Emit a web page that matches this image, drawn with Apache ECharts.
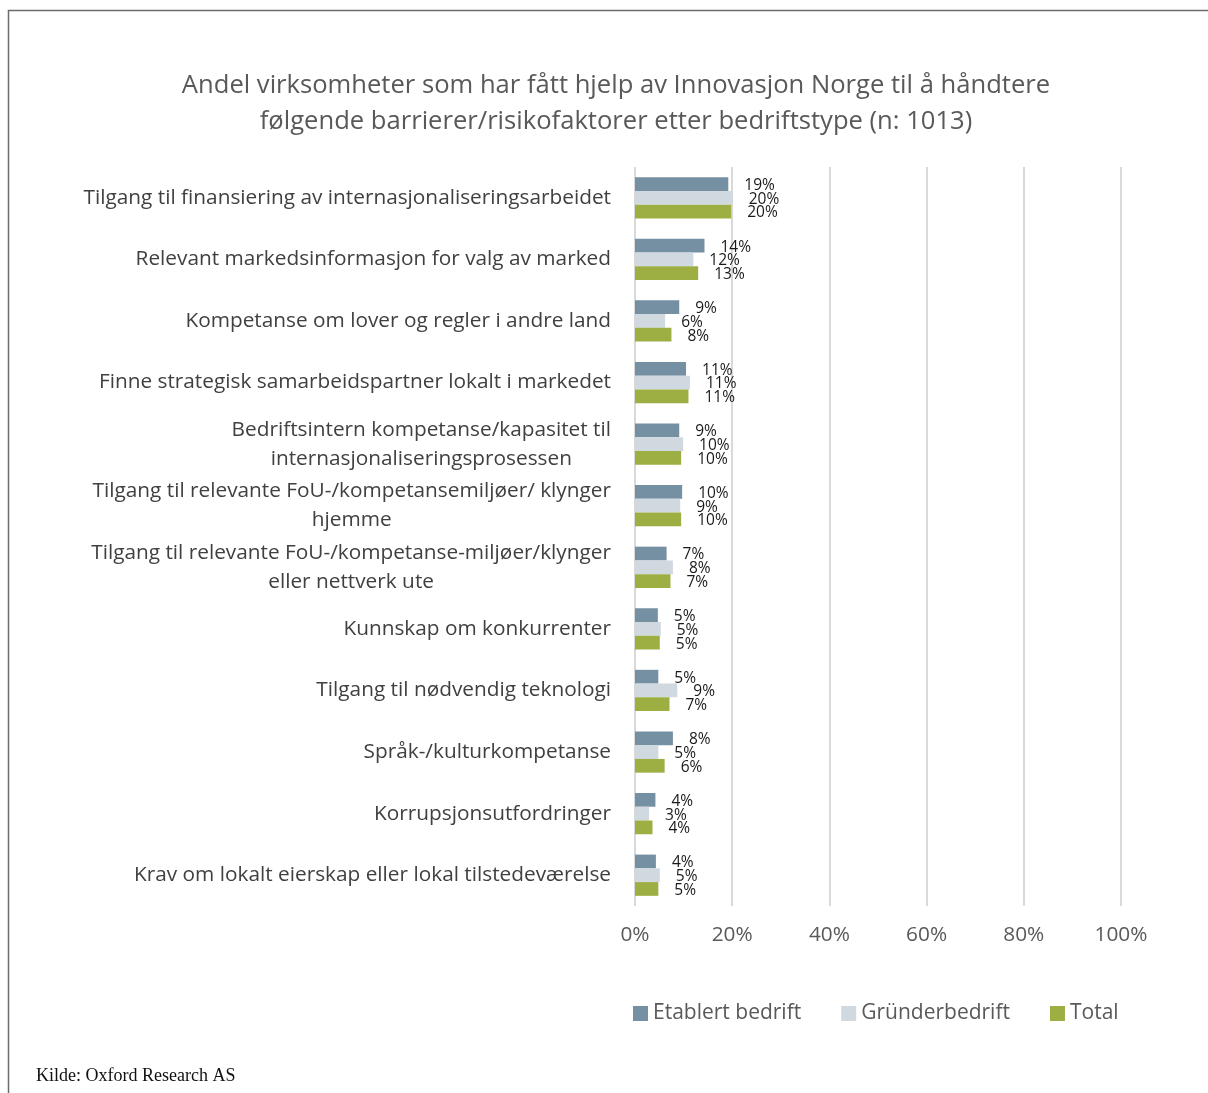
<!DOCTYPE html>
<html>
<head>
<meta charset="utf-8">
<script src="https://cdn.jsdelivr.net/npm/echarts@6/dist/echarts.min.js"></script>
<style>
html,body{margin:0;padding:0;background:#fff;}
#c{width:1208px;height:1093px;}
</style>
</head>
<body>
<div id="c"></div>
<script>
const categories = [
  "Tilgang til finansiering av internasjonaliseringsarbeidet",
  "Relevant markedsinformasjon for valg av marked",
  "Kompetanse om lover og regler i andre land",
  "Finne strategisk samarbeidspartner lokalt i markedet",
  "Bedriftsintern kompetanse/kapasitet til\ninternasjonaliseringsprosessen",
  "Tilgang til relevante FoU-/kompetansemiljøer/ klynger\nhjemme",
  "Tilgang til relevante FoU-/kompetanse-miljøer/klynger\neller nettverk ute",
  "Kunnskap om konkurrenter",
  "Tilgang til nødvendig teknologi",
  "Språk-/kulturkompetanse",
  "Korrupsjonsutfordringer",
  "Krav om lokalt eierskap eller lokal tilstedeværelse"
];
const etablert = [19.2, 14.3, 9.1, 10.5, 9.1, 9.7, 6.5, 4.7, 4.8, 7.8, 4.2, 4.3];
const grunder  = [20.1, 12.0, 6.2, 11.3, 9.9, 9.3, 7.8, 5.3, 8.7, 4.8, 2.9, 5.1];
const total    = [19.8, 13.0, 7.5, 11.0, 9.5, 9.5, 7.3, 5.1, 7.1, 6.1, 3.6, 4.8];
const etablertLabels = ["19%","14%","9%","11%","9%","10%","7%","5%","5%","8%","4%","4%"];
const grunderLabels  = ["20%","12%","6%","11%","10%","9%","8%","5%","9%","5%","3%","5%"];
const totalLabels    = ["20%","13%","8%","11%","10%","10%","7%","5%","7%","6%","4%","5%"];
const seriesNames = ["Etablert bedrift", "Gründerbedrift", "Total"];
const xTicks = [0, 20, 40, 60, 80, 100];

const FONT = "'Open Sans', Lato, sans-serif";
const colors = ["#7590a2", "#d0d8e0", "#9daf43"];

function mkSeries(name, data, labels, color) {
  return {
    name: name,
    type: "bar",
    data: data,
    barGap: "0%",
    barCategoryGap: "33%",
    itemStyle: { color: color },
    label: {
      show: true,
      position: "right",
      distance: 16,
      offset: [0, 1.5],
      formatter: p => labels[p.dataIndex],
      fontFamily: FONT,
      fontSize: 15.5,
      color: "#1a1a1a"
    }
  };
}

const chart = echarts.init(document.getElementById("c"), null, { renderer: "canvas" });
chart.setOption({
  animation: false,
  backgroundColor: "#ffffff",
  color: colors,
  title: {
    text: "Andel virksomheter som har fått hjelp av Innovasjon Norge til å håndtere\nfølgende barrierer/risikofaktorer etter bedriftstype (n: 1013)",
    left: 611,
    top: 63,
    textAlign: "center",
    textStyle: {
      fontFamily: FONT,
      fontSize: 25.6,
      fontWeight: "normal",
      color: "#595959",
      lineHeight: 36
    }
  },
  legend: {
    left: 628,
    top: 998,
    itemWidth: 15,
    itemHeight: 15,
    itemGap: 40,
    icon: "rect",
    textStyle: { fontFamily: FONT, fontSize: 21, color: "#595959", padding: [0, 0, 0, 0] },
    data: seriesNames
  },
  grid: { left: 635, right: 87, top: 167, bottom: 187, containLabel: false },
  xAxis: {
    type: "value",
    min: xTicks[0],
    max: xTicks[xTicks.length - 1],
    interval: 20,
    axisLine: { show: false },
    axisTick: { show: false },
    splitLine: { lineStyle: { color: "#d9d9d9", width: 2 } },
    axisLabel: {
      formatter: "{value}%",
      fontFamily: FONT,
      fontSize: 20.8,
      color: "#595959",
      margin: 19
    }
  },
  yAxis: {
    type: "category",
    inverse: true,
    data: categories,
    axisLine: { show: false },
    axisTick: { show: false },
    axisLabel: {
      margin: 24,
      fontFamily: FONT,
      fontSize: 20.8,
      color: "#404040",
      lineHeight: 29,
      formatter: v => v.split("\n").map(s => "{c|" + s + "}").join("\n"),
      rich: {
        c: { align: "center", fontFamily: FONT, fontSize: 20.8, color: "#404040", lineHeight: 29 }
      }
    }
  },
  series: [
    mkSeries(seriesNames[0], etablert, etablertLabels, colors[0]),
    mkSeries(seriesNames[1], grunder, grunderLabels, colors[1]),
    mkSeries(seriesNames[2], total, totalLabels, colors[2])
  ],
  graphic: [
    { type: "polyline", shape: { points: [[8.5, 1093], [8.5, 10.5], [1208, 10.5]] }, style: { stroke: "#6b6b6b", lineWidth: 1.5, fill: null } },
    { type: "text", left: 36, top: 1067, style: { text: "Kilde: Oxford Research AS", font: "18px 'Liberation Serif', 'DejaVu Serif', serif", fill: "#111" } }
  ]
});
</script>
</body>
</html>
